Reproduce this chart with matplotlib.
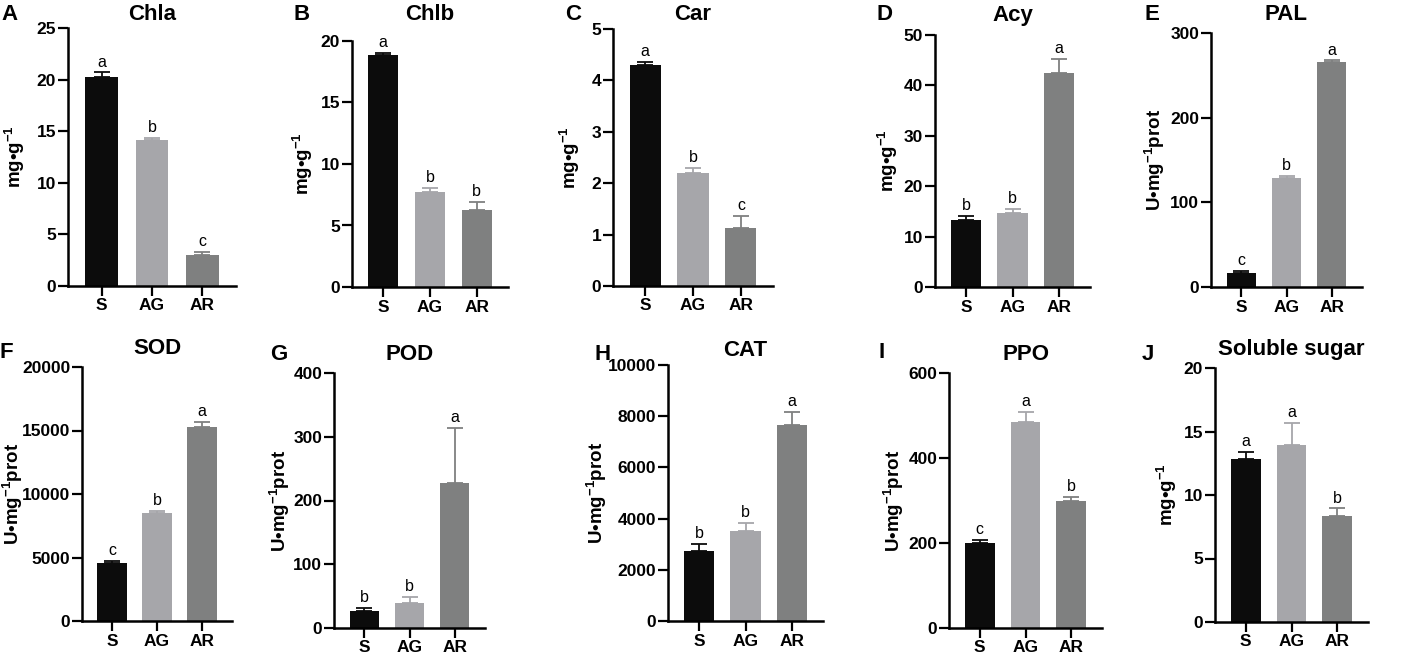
import numpy as np
import matplotlib
matplotlib.use("Agg")
import matplotlib.pyplot as plt

plt.rcParams['font.family'] = ['Liberation Sans', 'DejaVu Sans']
plt.rcParams['mathtext.fontset'] = 'custom'
plt.rcParams['mathtext.rm'] = 'Liberation Sans'
plt.rcParams['mathtext.bf'] = 'Liberation Sans:bold'

# groups and bar colours
groups = ['S', 'AG', 'AR']
colors = ['#0c0c0c', '#a6a6aa', '#7f8080']

# values (mean, upper error)
chla_mean = [20.3, 14.15, 3.0]
chla_err = [0.4, 0.22, 0.33]
chlb_mean = [18.83, 7.75, 6.25]
chlb_err = [0.2, 0.3, 0.7]
car_mean = [4.3, 2.2, 1.12]
car_err = [0.06, 0.1, 0.24]
acy_mean = [13.2, 14.6, 42.5]
acy_err = [0.9, 0.9, 2.8]
pal_mean = [16.6, 129.0, 265.5]
pal_err = [2.3, 2.5, 2.2]
sod_mean = [4560, 8520, 15280]
sod_err = [180, 130, 390]
pod_mean = [26.2, 39.8, 227.0]
pod_err = [5.3, 9.0, 87.5]
cat_mean = [2720, 3530, 7640]
cat_err = [300, 290, 520]
ppo_mean = [199, 485, 299]
ppo_err = [8, 24, 9]
sugar_mean = [12.8, 13.95, 8.35]
sugar_err = [0.6, 1.75, 0.6]

chla_sig = ['a', 'b', 'c']
chlb_sig = ['a', 'b', 'b']
car_sig = ['a', 'b', 'c']
acy_sig = ['b', 'b', 'a']
pal_sig = ['c', 'b', 'a']
sod_sig = ['c', 'b', 'a']
pod_sig = ['b', 'b', 'a']
cat_sig = ['b', 'b', 'a']
ppo_sig = ['c', 'a', 'b']
sugar_sig = ['a', 'a', 'b']

mg = r'mg•g$^{\mathbf{-1}}$'
u = r'U•mg$^{\mathbf{-1}}$prot'

W, H = 1417, 660
fig = plt.figure(figsize=(W / 100, H / 100), dpi=100)

# (letter, title, ylabel, mean, err, sig, yticks,
#  axes box in px: left, right, top, bottom, title y, letter x, letter y, ylabel x)
panels = [
    ('A', 'Chla', mg, chla_mean, chla_err, chla_sig, [0, 5, 10, 15, 20, 25],
     (68, 236, 28, 286), 15, 10, 15, 15),
    ('B', 'Chlb', mg, chlb_mean, chlb_err, chlb_sig, [0, 5, 10, 15, 20],
     (352, 508, 41, 287), 15, 302, 15, 303),
    ('C', 'Car', mg, car_mean, car_err, car_sig, [0, 1, 2, 3, 4, 5],
     (613, 773, 29, 286), 15, 573, 15, 570),
    ('D', 'Acy', mg, acy_mean, acy_err, acy_sig, [0, 10, 20, 30, 40, 50],
     (935, 1090, 35, 287), 15, 885, 15, 888),
    ('E', 'PAL', u, pal_mean, pal_err, pal_sig, [0, 100, 200, 300],
     (1211, 1362, 33, 287), 15, 1152, 15, 1155),
    ('F', 'SOD', u, sod_mean, sod_err, sod_sig, [0, 5000, 10000, 15000, 20000],
     (82, 232, 367, 621), 349, 6, 352, 13),
    ('G', 'POD', u, pod_mean, pod_err, pod_sig, [0, 100, 200, 300, 400],
     (334, 485, 373, 628), 355, 279, 355, 280),
    ('H', 'CAT', u, cat_mean, cat_err, cat_sig, [0, 2000, 4000, 6000, 8000, 10000],
     (668, 823, 365, 621), 350, 603, 355, 597),
    ('I', 'PPO', u, ppo_mean, ppo_err, ppo_sig, [0, 200, 400, 600],
     (949, 1102, 373, 628), 355, 882, 352, 894),
    ('J', 'Soluble sugar', mg, sugar_mean, sugar_err, sugar_sig, [0, 5, 10, 15, 20],
     (1215, 1368, 368, 622), 349, 1148, 355, 1167),
]

x = np.arange(len(groups))
for (letter, title, ylab, mean, err, sig, yt, box, ty, lx, ly, yx) in panels:
    l, r, t, b = box
    ax = fig.add_axes([l / W, 1 - b / H, (r - l) / W, (b - t) / H])
    ax.bar(x, mean, width=0.65, color=colors)
    for i in range(len(groups)):
        ax.errorbar(x[i], mean[i], yerr=[[0], [err[i]]], fmt='none',
                    ecolor=colors[i], elinewidth=1.3, capsize=6, capthick=1.3)
        ax.annotate(sig[i], (x[i], mean[i] + err[i]), xytext=(0, 2),
                    textcoords='offset points', ha='center', va='bottom',
                    fontsize=11.5)
    ax.set_xlim(-0.67, 2.67)
    ax.set_ylim(0, yt[-1])
    ax.set_yticks(yt)
    ax.set_xticks(x)
    ax.set_xticklabels(groups, fontsize=12.5, fontweight='bold')
    for lab in ax.get_yticklabels():
        lab.set_fontweight('bold')
        lab.set_fontsize(12.5)
    ax.spines['top'].set_visible(False)
    ax.spines['right'].set_visible(False)
    ax.spines['left'].set_linewidth(1.8)
    ax.spines['bottom'].set_linewidth(1.8)
    ax.tick_params(axis='y', length=7.5, width=1.6, pad=1)
    ax.tick_params(axis='x', length=7, width=1.6, pad=2)
    ax.set_ylabel(ylab, fontsize=13.5, fontweight='bold', va='center')
    ax.yaxis.set_label_coords((yx - l) / (r - l), 0.5)
    fig.text((l + r) / 2 / W, 1 - ty / H, title, ha='center', va='center',
             fontsize=16, fontweight='bold')
    fig.text(lx / W, 1 - ly / H, letter, ha='center', va='center',
             fontsize=16, fontweight='bold')

fig.savefig('out.png', dpi=100)
